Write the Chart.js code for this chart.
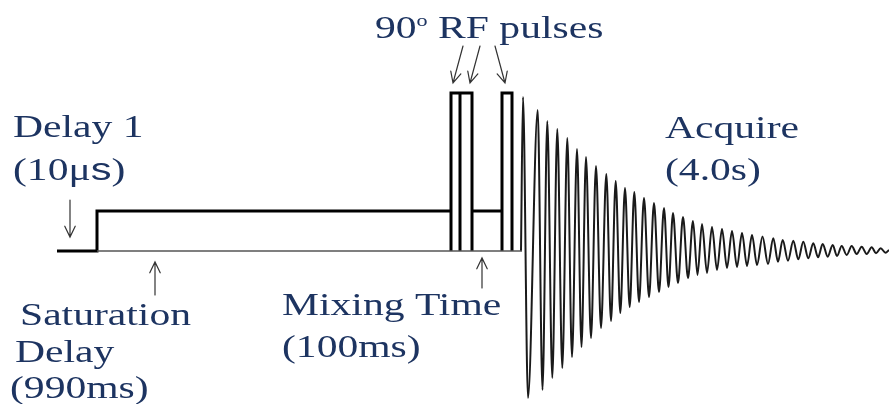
<!DOCTYPE html>
<html>
<head>
<meta charset="utf-8">
<script src="https://cdn.jsdelivr.net/npm/chart.js@4.4.1/dist/chart.umd.min.js"></script>
<style>
  html, body { margin: 0; padding: 0; background: #fff; }
  #wrap { width: 889px; height: 404px; position: relative; }
</style>
</head>
<body>
<div id="wrap"><canvas id="seq"></canvas></div>
<script>
// Diagram units: x = position along the sequence, y = level above the baseline
const X_RANGE = [0, 889];
const Y_RANGE = [-153, 251];

// Saturation step + three 90° pulses + mixing level (null y = pen up)
const pulseX = [57, 97, 97, 451, 451, 451, 451, 472, 472, 472, 460, 460, 460, 472, 502, 502, 502, 502, 512, 512];
const pulseY = [0, 0, 40, 40, null, 0, 158, 158, 0, null, 0, 158, null, 40, 40, null, 0, 158, 158, 0];

// thin reference baseline
const baseX = [97, 522];
const baseY = [0, 0];

// FID: maxima and minima
const fidStart = [521, 0];
const fidEnd = [889, 1];
const fidPeakX = [523, 537.7, 547.3, 557.3, 567.3, 577, 586, 596, 606.3, 615.7, 625, 634.3, 644, 654, 664, 673, 683, 693, 702, 712, 722, 732, 742, 752, 762.5, 773.3, 782.7, 793.3, 803.3, 813.3, 822.7, 832.7, 841.7, 851.7, 861.7, 871.7, 880.7];
const fidPeakY = [154, 141, 130, 122, 113, 102, 94, 85, 77, 70, 63, 59, 53, 48, 43, 38, 34, 30, 27, 24, 22, 20, 18, 16, 14.5, 12.7, 11, 10.3, 9.3, 7.7, 7, 6, 5, 5, 4.3, 3.7, 2.7];
const fidTroughX = [528, 542.5, 552.3, 562.3, 572, 581.5, 591, 601, 611, 620.3, 629.7, 639, 649, 659, 668.5, 678, 688, 697.5, 707, 717, 727, 737, 747, 757, 768, 778, 788, 798.3, 808.3, 818, 827.7, 837, 846.7, 856.7, 866.7, 876, 885.5];
const fidTroughY = [-147, -139, -127, -117, -106, -96, -87, -77, -70, -62, -56, -51, -46, -41, -36, -32, -27, -24, -22, -19, -17, -16, -15, -14, -13, -10.7, -9.7, -8.3, -7.3, -6.3, -5.7, -5, -4, -3, -3, -2.3, -1.7];

// label text
const labelTexts = ['Delay 1', '(10μs)', 'Saturation', 'Delay', '(990ms)', 'Mixing Time', '(100ms)', 'Acquire', '(4.0s)', '90o RF pulses'];

// arrows: tail -> tip
const arrowTail = [[70, 51], [155, -44], [482, -37], [463, 205], [480, 205], [495, 205]];
const arrowTip = [[70, 14], [155, -11], [482, -7], [453, 168], [470, 168], [505, 168]];

const TEXT_COLOR = '#1d3461';
const SERIF = "'Liberation Serif', 'Times New Roman', serif";
const SANS = "'Liberation Sans', Arial, sans-serif";
const FONT_PX = 32;
const STRETCH = 1.3; // wide-set lettering

// where each label starts (left x, baseline y) and how it is split into font runs
const labelLayout = [
  { at: [13, 114], runs: [{ t: 'Delay 1' }] },
  { at: [13, 71], runs: [{ t: '(10' }, { t: 'μ' }, { t: 's', sans: true }, { t: ')' }] },
  { at: [20, -74], runs: [{ t: 'Saturation' }] },
  { at: [15, -111], runs: [{ t: 'Delay' }] },
  { at: [10, -147], runs: [{ t: '(990ms)' }] },
  { at: [282, -64], runs: [{ t: 'Mixing Time' }] },
  { at: [282, -106], runs: [{ t: '(100ms)' }] },
  { at: [665, 113], runs: [{ t: 'Acquire' }] },
  { at: [665, 71], runs: [{ t: '(4.0s)' }] },
  { at: [375, 213], runs: [{ t: '90' }, { t: 'o', size: 17, rise: 12 }, { t: ' RF pulses' }] }
];

const zip = (xs, ys) => xs.map((x, i) => ({ x, y: ys[i] }));

function fidPoints() {
  const pts = [{ x: fidStart[0], y: fidStart[1] }];
  fidPeakX.forEach((x, i) => {
    pts.push({ x, y: fidPeakY[i] });
    pts.push({ x: fidTroughX[i], y: fidTroughY[i] });
  });
  pts.push({ x: fidEnd[0], y: fidEnd[1] });
  return pts;
}

// text labels and arrows, placed through the chart scales
const annotations = {
  id: 'annotations',
  afterDatasetsDraw(chart) {
    const { ctx, scales: { x, y } } = chart;
    ctx.save();

    // arrows
    ctx.strokeStyle = '#333';
    ctx.lineWidth = 1.2;
    ctx.lineCap = 'round';
    arrowTail.forEach((tail, i) => {
      const x0 = x.getPixelForValue(tail[0]), y0 = y.getPixelForValue(tail[1]);
      const x1 = x.getPixelForValue(arrowTip[i][0]), y1 = y.getPixelForValue(arrowTip[i][1]);
      const ang = Math.atan2(y1 - y0, x1 - x0);
      const head = 12, spread = 0.45;
      ctx.beginPath();
      ctx.moveTo(x0, y0);
      ctx.lineTo(x1, y1);
      ctx.moveTo(x1 - head * Math.cos(ang - spread), y1 - head * Math.sin(ang - spread));
      ctx.lineTo(x1, y1);
      ctx.lineTo(x1 - head * Math.cos(ang + spread), y1 - head * Math.sin(ang + spread));
      ctx.stroke();
    });

    // labels
    ctx.fillStyle = TEXT_COLOR;
    ctx.textBaseline = 'alphabetic';
    ctx.textAlign = 'left';
    labelLayout.forEach(lbl => {
      ctx.save();
      ctx.translate(x.getPixelForValue(lbl.at[0]), y.getPixelForValue(lbl.at[1]));
      ctx.scale(STRETCH, 1);
      let cx = 0;
      lbl.runs.forEach(r => {
        const size = r.size || FONT_PX;
        ctx.font = size + 'px ' + (r.sans ? SANS : SERIF);
        ctx.fillText(r.t, cx, -(r.rise || 0));
        cx += ctx.measureText(r.t).width;
      });
      ctx.restore();
    });
    ctx.restore();
  }
};

new Chart(document.getElementById('seq'), {
  type: 'line',
  data: {
    datasets: [
      {
        label: 'baseline',
        data: zip(baseX, baseY),
        borderColor: '#555',
        borderWidth: 1.4,
        pointRadius: 0
      },
      {
        label: 'pulses',
        data: zip(pulseX, pulseY),
        borderColor: '#000',
        borderWidth: 3,
        borderJoinStyle: 'miter',
        pointRadius: 0,
        spanGaps: false
      },
      {
        label: 'FID',
        data: fidPoints(),
        borderColor: '#1a1a1a',
        borderWidth: 2,
        pointRadius: 0,
        cubicInterpolationMode: 'monotone'
      }
    ]
  },
  options: {
    responsive: true,
    maintainAspectRatio: false,
    animation: false,
    events: [],
    layout: { padding: 0 },
    plugins: { legend: { display: false }, tooltip: { enabled: false } },
    scales: {
      x: { type: 'linear', min: X_RANGE[0], max: X_RANGE[1], display: false },
      y: { type: 'linear', min: Y_RANGE[0], max: Y_RANGE[1], display: false }
    }
  },
  plugins: [annotations]
});
</script>
</body>
</html>
